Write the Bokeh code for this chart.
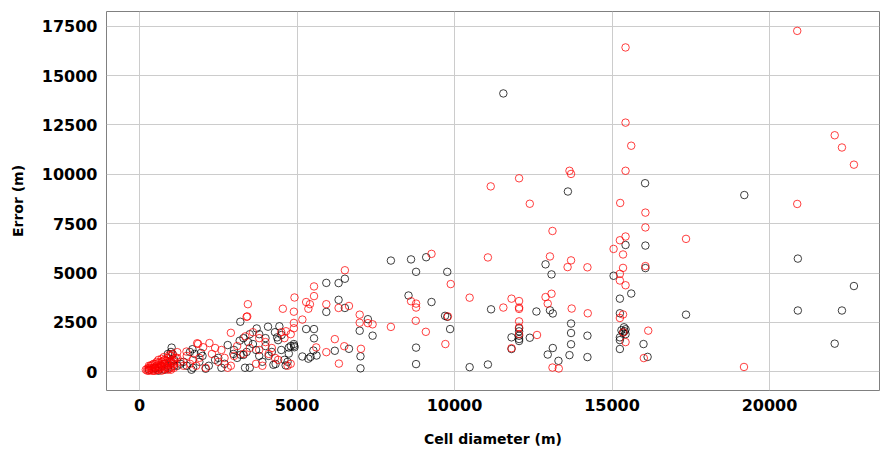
from bokeh.plotting import figure
from bokeh.models import Range1d, FixedTicker
from bokeh.embed import file_html
from bokeh.resources import INLINE

# ---- data ----
black_x = [11550, 13600, 16050, 19200, 20900, 22680, 20900, 22300, 22070, 17350,
           16060, 15430, 16060, 15050, 15610, 15250, 15250, 15380, 15430, 15400,
           15350, 15430, 15300, 15250, 15250, 16000, 15250, 16130, 12890, 13080,
           11160, 12600, 13030, 13120, 12050, 12050, 12050, 12050, 12050, 11810,
           11810, 12390, 13700, 13700, 13700, 13650, 14220, 14220, 13120, 12960,
           13300, 11060, 10480, 8780, 8780, 7015, 7015, 7400, 6990, 7250,
           9860, 9700, 9770, 9270, 8540, 8780, 9770, 9100, 8620, 7980,
           6520, 6320, 5930, 6320, 6520, 5930, 5290, 5540, 5540, 5170,
           5360, 5430, 5620, 4900, 4910, 4920, 6200, 6650, 5520, 3200,
           3720, 4080, 4440, 4370, 4510, 4740, 4740, 4640, 4320,
           3000, 3100, 3300, 3450, 3180, 2980, 3210, 3500, 3350, 3700,
           3800, 3900, 4000, 4100, 4200, 4250, 4400, 4500, 4600, 4700,
           4800, 3800, 3600, 4000, 4300, 3400, 2700, 2600, 2400, 2200,
           2000, 1900, 1700, 1650, 1600, 1750, 1950, 2100, 1680, 1020,
           1050, 900, 800, 600, 500, 1100, 1200, 1300, 1400, 1500,
           2500, 2800, 3300, 3500, 300, 500, 700, 900, 1000, 800,
           600, 1100, 1000, 900]
black_y = [14100, 9130, 9550, 8950, 5730, 4340, 3100, 3100, 1420, 2890,
           6390, 6420, 5250, 4860, 3960, 3700, 2960, 2250, 2150, 2050,
           1980, 1900, 2100, 1740, 1600, 1400, 1150, 750, 5440, 4930,
           3160, 3050, 3110, 2950, 2200, 2045, 1820, 1655, 1555, 1740,
           1150, 1720, 2440, 1960, 1390, 840, 1825, 740, 1200, 870,
           550, 365, 230, 385, 1220, 780, 170, 1825, 2075, 2660,
           2160, 2830, 2780, 3530, 3860, 5060, 5060, 5800, 5690, 5630,
           4710, 4490, 4500, 3640, 3230, 3030, 2160, 2160, 1690, 770,
           660, 750, 820, 1400, 1310, 1240, 1060, 1160, 1070, 2530,
           2190, 2280, 2300, 1740, 1860, 1220, 920, 320, 390,
           1100, 700, 850, 1500, 1570, 900, 860, 200, 200, 1100,
           800, 500, 1300, 800, 1000, 350, 1600, 1100, 600, 500,
           1300, 1900, 1400, 1700, 2000, 1000, 400, 200, 600, 300,
           800, 500, 200, 100, 1000, 900, 950, 150, 1140, 1220,
           900, 300, 100, 200, 150, 600, 300, 400, 500, 300,
           700, 1350, 1700, 1900, 100, 200, 300, 200, 500, 400,
           50, 300, 1000, 900]

red_x = [20880, 15430, 15430, 15610, 22070, 22300, 22680, 15430, 13650, 13700,
         12050, 11150, 12390, 15260, 16060, 16060, 13110, 20880, 17350, 15430,
         15250, 15050, 15350, 15350, 16060, 15250, 15250, 15430, 15350, 15250,
         16150, 15360, 15430, 16010, 19190,
         11060, 13030, 13700, 13590, 14220, 11810, 12050, 11550, 12050, 12050,
         12890, 13080, 12960, 13720, 14230, 12050, 12050, 12050, 11810, 12620,
         13110, 13310,
         9270, 9880, 10480, 8620, 8780, 8780, 8770, 9090, 9790, 9710,
         7980, 7250, 7400, 6990, 6990, 7030, 6500, 6200, 5930, 5610,
         6330, 6520, 5540, 5540, 4920, 5290, 5410, 5360, 4550, 4900,
         4900, 5170, 5930, 6320, 6650, 4900, 3440, 3400, 3420, 2900,
         3360, 2220, 1860, 2020, 1830, 1490, 1200, 770,
         3600, 3800, 4000, 4200, 4100, 4300, 4500, 4600, 4700, 4800,
         4400, 3700, 3900, 3500, 3300, 3100, 2900, 2700, 2600, 2500,
         2400, 2300, 2100, 1900, 1800, 1700, 1600, 1500, 1400, 1300,
         1200, 1100, 1000, 2800, 3000, 4650, 4800, 3800,
         200, 250, 300, 300, 350, 350, 400, 400, 450, 450,
         500, 500, 550, 550, 600, 600, 650, 650, 700, 700,
         750, 750, 800, 800, 850, 850, 900, 900, 950, 950,
         1000, 1000, 1050, 1050, 1100, 250, 300, 350, 450, 550,
         650, 700, 600, 500, 400, 800, 900, 1000, 1100, 1150,
         700, 850, 950, 1050, 600, 750]
red_y = [17270, 16430, 12620, 11450, 11980, 11360, 10490, 10180, 10180, 10020,
         9800, 9390, 8510, 8550, 8060, 7310, 7130, 8500, 6730, 6850,
         6660, 6220, 5940, 5260, 5350, 4960, 4620, 4380, 2900, 2720,
         2080, 1990, 1500, 690, 240,
         5790, 5840, 5640, 5300, 5290, 3700, 3580, 3250, 3250, 3180,
         3780, 3950, 3450, 3200, 2960, 2550, 2250, 1900, 1190, 1860,
         210, 160,
         5970, 4440, 3750, 3570, 3450, 3250, 2580, 2020, 2800, 1400,
         2270, 2460, 2400, 2890, 2480, 1160, 1290, 1650, 990, 1230,
         410, 5140, 4320, 3830, 3760, 3530, 3420, 3190, 3190, 3040,
         2470, 2640, 3420, 3230, 3330, 2200, 3420, 2780, 2800, 1970,
         1790, 1450, 1410, 1240, 1440, 1020, 990, 740,
         2000, 1700, 1500, 1200, 900, 700, 2000, 1700, 300, 1900,
         600, 400, 300, 1200, 900, 1300, 300, 700, 1100, 500,
         1200, 900, 200, 700, 300, 600, 400, 800, 300, 500,
         700, 400, 200, 200, 800, 2050, 400, 1100,
         100, 150, 50, 200, 100, 300, 150, 350, 200, 50,
         250, 400, 100, 300, 200, 450, 150, 350, 250, 500,
         100, 400, 300, 600, 200, 450, 350, 700, 150, 500,
         400, 800, 300, 600, 500, 50, 300, 200, 400, 500,
         250, 50, 100, 50, 50, 150, 100, 100, 200, 700,
         650, 550, 850, 900, 600, 550]

x_ticks = [0, 5000, 10000, 15000, 20000]
y_ticks = [0, 2500, 5000, 7500, 10000, 12500, 15000, 17500]

FONT = "DejaVu Sans"

p = figure(width=880, height=449, output_backend="svg", toolbar_location=None,
           x_range=Range1d(-1048, 23492), y_range=Range1d(-953, 18251),
           min_border_left=106, min_border_right=1, min_border_top=11, min_border_bottom=55)

p.scatter(black_x, black_y, marker="circle", size=7.5, fill_color=None,
          line_color="black", line_alpha=0.75, line_width=1)
p.scatter(red_x, red_y, marker="circle", size=7.5, fill_color=None,
          line_color="red", line_alpha=0.75, line_width=1)

p.outline_line_color = "#808080"
p.outline_line_width = 1
p.background_fill_color = "white"
p.border_fill_color = "white"

for g in (p.xgrid, p.ygrid):
    g.grid_line_color = "#cccccc"
    g.grid_line_width = 1

p.xaxis.ticker = FixedTicker(ticks=x_ticks)
p.yaxis.ticker = FixedTicker(ticks=y_ticks)

for ax in (p.xaxis, p.yaxis):
    ax.axis_line_color = None
    ax.major_tick_line_color = None
    ax.minor_tick_line_color = None
    ax.major_tick_out = 0
    ax.major_tick_in = 0
    ax.major_label_text_font = FONT
    ax.major_label_text_font_style = "bold"
    ax.major_label_text_font_size = "16px"
    ax.major_label_text_color = "black"
    ax.axis_label_text_font = FONT
    ax.axis_label_text_font_style = "bold"
    ax.axis_label_text_font_size = "14px"
    ax.axis_label_text_color = "black"

p.xaxis.axis_label = "Cell diameter (m)"
p.yaxis.axis_label = "Error (m)"
p.xaxis.major_label_standoff = 8
p.yaxis.major_label_standoff = 9
p.xaxis.axis_label_standoff = 17
p.yaxis.axis_label_standoff = 13

open("out.html", "w").write(file_html(p, INLINE))
